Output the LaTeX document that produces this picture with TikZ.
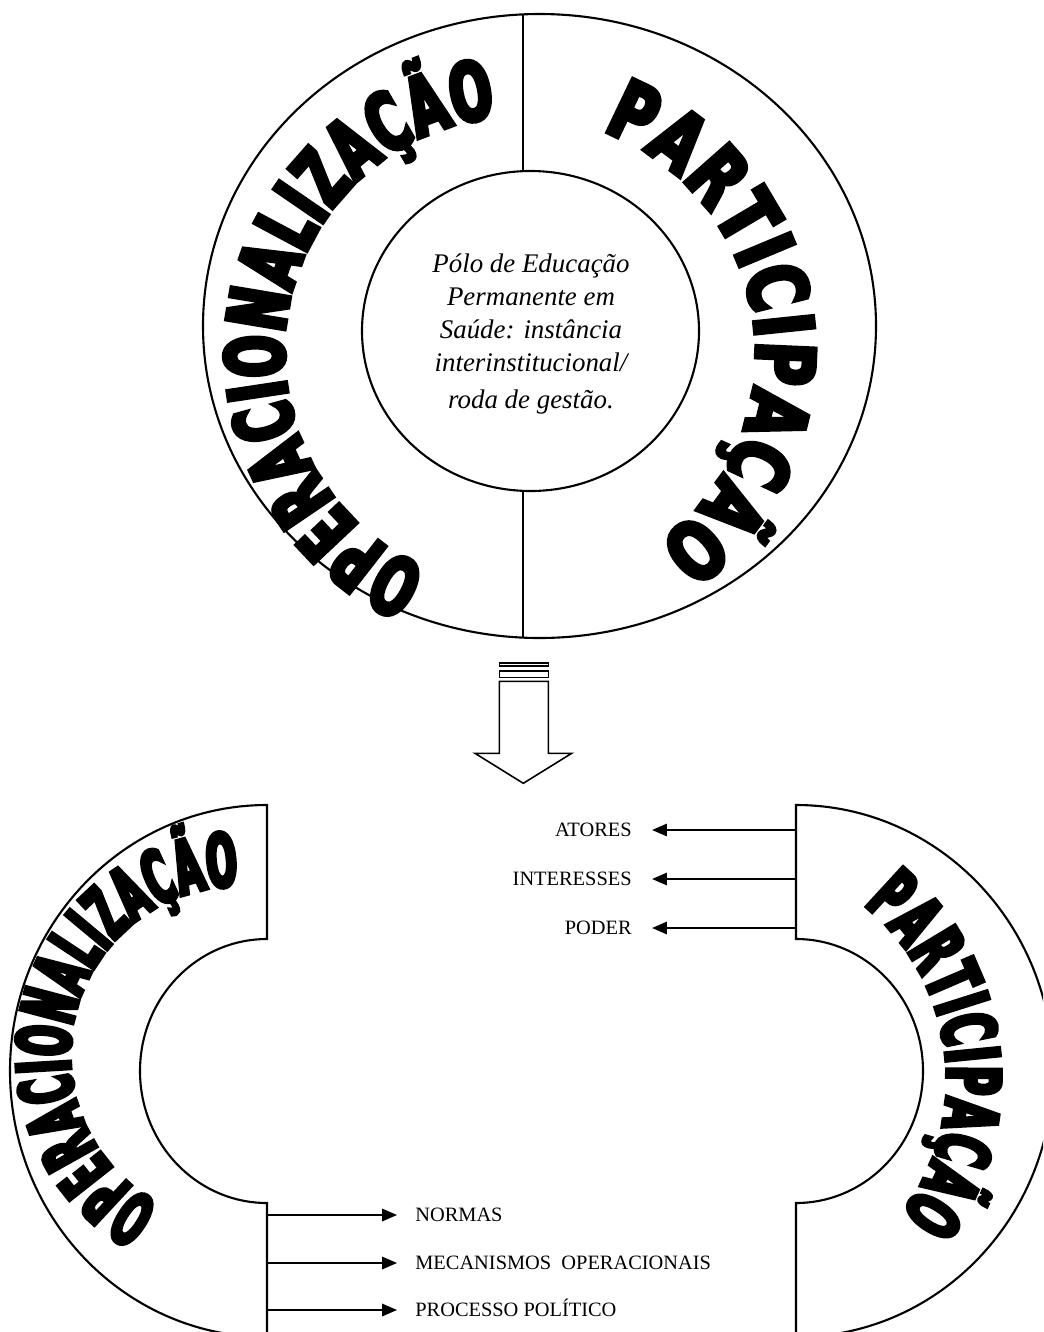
\documentclass[tikz,border=0pt]{standalone}
\usepackage{fontspec}
\setmainfont{Liberation Serif}
\newfontfamily\toparc{DejaVu Sans}[FakeStretch=0.61,FakeBold=5.5]
\newfontfamily\toparcwide{DejaVu Sans}[FakeStretch=0.73,FakeBold=5.5]
\newfontfamily\botarc{DejaVu Sans}[FakeStretch=0.48,FakeBold=5.5]
\newfontfamily\botarcwide{DejaVu Sans}[FakeStretch=0.54,FakeBold=5.5]
\usetikzlibrary{arrows.meta,decorations.text,calc}

\tikzset{
  ring/.style={line width=1.2pt},
  flow/.style={line width=1.2pt, -{Triangle[length=8.5pt,width=7pt]}},
  lbl/.style={font=\fontsize{11.6}{13}\selectfont, inner sep=0pt, text height=7.7pt, text depth=0pt},
  arctext/.style={decorate, decoration={text along path, text align=fit to path, text={#1}}}
}

\begin{document}
\begin{tikzpicture}[x=0.2mm, y=0.2mm]
  \useasboundingbox (0,0) rectangle (1043,-1332);
  \clip (0,0) rectangle (1043,-1332);
  \draw[ring] (539.5,-326) ellipse [x radius=336.5, y radius=312];
  \draw[ring] (530.5,-331) ellipse [x radius=168.5, y radius=160];
  \draw[ring] (523,-14) -- (523,-171);
  \draw[ring] (523,-491) -- (523,-638);
  \node[align=center, font=\itshape\fontsize{15.3}{18.8}\selectfont] (polo) at (531,-334)
    {Pólo de Educação\\Permanente em\\Saúde: instância\\interinstitucional/\\[2pt]roda de gestão.};
  \coordinate (tc) at (520,-352);
  \path[arctext={|\toparc\bfseries\fontsize{46}{50}\selectfont|OPERACIONALIZAÇÃO}]
    ($(tc)+(246.9:236)$) arc[start angle=246.9, end angle=95.7, radius=236];
  \path[arctext={|\toparcwide\bfseries\fontsize{46}{50}\selectfont|PARTICIPAÇÃO}]
    ($(tc)+(69.6:236)$) arc[start angle=69.6, end angle=-54.5, radius=236];

  \draw[line width=0.9pt] (499.3,-662.7) rectangle (548.3,-666);
  \draw[line width=0.9pt] (499.3,-670.7) rectangle (548.3,-677.3);
  \draw[line width=0.9pt] (499.3,-681.3) -- (548.3,-681.3) -- (548.3,-753.3) -- (571.7,-753.3)
    -- (523.3,-783.3) -- (475,-753.3) -- (499.3,-753.3) -- cycle;

  \draw[ring] (267,-805) arc[start angle=90, end angle=270, x radius=257, y radius=266]
    -- (267,-1203) arc[start angle=270, end angle=90, x radius=127, y radius=132] -- cycle;
  \draw[ring] (796,-805) arc[start angle=90, end angle=-90, x radius=257, y radius=266]
    -- (796,-1203) arc[start angle=-90, end angle=90, x radius=127, y radius=132] -- cycle;
  \coordinate (blc) at (239,-1055);
  \coordinate (brc) at (723,-1079);
  \path[arctext={|\botarc\bfseries\fontsize{42}{46}\selectfont|OPERACIONALIZAÇÃO}]
    ($(blc)+(242:169)$) arc[start angle=242, end angle=90.1, radius=169];
  \path[arctext={|\botarcwide\bfseries\fontsize{42}{46}\selectfont|PARTICIPAÇÃO}]
    ($(brc)+(51.1:224)$) arc[start angle=51.1, end angle=-37.4, radius=224];

  \node[lbl, anchor=east] (atores) at (632,-830) {ATORES};
  \node[lbl, anchor=east] (interesses) at (632,-879) {INTERESSES};
  \node[lbl, anchor=east] (poder) at (632,-928) {PODER};
  \node[lbl, anchor=west] (normas) at (415,-1215) {NORMAS};
  \node[lbl, anchor=west] (mecanismos) at (415,-1263) {MECANISMOS\ \ OPERACIONAIS};
  \node[lbl, anchor=west] (processo) at (415,-1310) {PROCESSO POLÍTICO};
  \coordinate (p1) at (796,-830);
  \coordinate (p2) at (796,-879);
  \coordinate (p3) at (796,-928);
  \coordinate (o1) at (267,-1215);
  \coordinate (o2) at (267,-1263);
  \coordinate (o3) at (267,-1310);
  \draw[flow, shorten >=11.4pt] (p1) -- (atores.east);
  \draw[flow, shorten >=11.4pt] (p2) -- (interesses.east);
  \draw[flow, shorten >=11.4pt] (p3) -- (poder.east);
  \draw[flow, shorten >=10.2pt] (o1) -- (normas.west);
  \draw[flow, shorten >=10.2pt] (o2) -- (mecanismos.west);
  \draw[flow, shorten >=10.2pt] (o3) -- (processo.west);
\end{tikzpicture}
\end{document}
